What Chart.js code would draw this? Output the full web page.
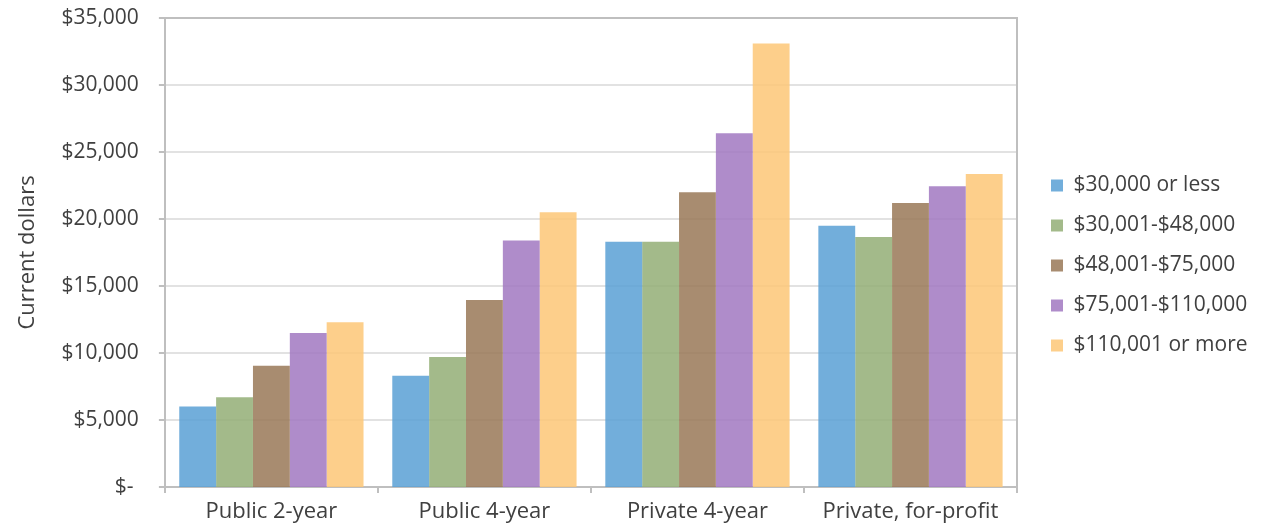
<!DOCTYPE html>
<html>
<head>
<meta charset="utf-8">
<script src="https://cdn.jsdelivr.net/npm/chart.js@4"></script>
<style>
  html, body { margin: 0; padding: 0; background: #ffffff; }
  #wrap { width: 1265px; height: 523px; }
</style>
</head>
<body>
<div id="wrap"><canvas id="chart" width="1265" height="523"></canvas></div>
<script>
// Institution types
const categories = ["Public 2-year", "Public 4-year", "Private 4-year", "Private, for-profit"];

// Family income groups
const incomeGroups = ["$30,000 or less", "$30,001-$48,000", "$48,001-$75,000", "$75,001-$110,000", "$110,001 or more"];

// Net price by income group, per institution type (current dollars)
const income30kOrLess   = [6000, 8300, 18300, 19500];
const income30kTo48k    = [6700, 9700, 18300, 18650];
const income48kTo75k    = [9050, 13950, 22000, 21200];
const income75kTo110k   = [11500, 18400, 26400, 22450];
const income110kOrMore  = [12300, 20500, 33100, 23350];

// Value-axis ticks
const yTicks = [0, 5000, 10000, 15000, 20000, 25000, 30000, 35000];

const seriesValues = [income30kOrLess, income30kTo48k, income48kTo75k, income75kTo110k, income110kOrMore];
const seriesColors = [
  "rgba(89,160,213,0.85)",
  "rgba(147,174,117,0.85)",
  "rgba(153,120,87,0.85)",
  "rgba(161,120,193,0.85)",
  "rgba(253,199,119,0.85)"
];

const textColor = "#404040";
const axisColor = "#bfbfbf";
const gridColor = "#e2e2e2";
const fontFamily = "'Open Sans', 'DejaVu Sans', sans-serif";
const legendWidth = 233;

// Frame around the plotting area (top and right edges)
const plotFrame = {
  id: "plotFrame",
  beforeDatasetsDraw(chart) {
    const { ctx, chartArea: a } = chart;
    ctx.save();
    ctx.strokeStyle = axisColor;
    ctx.lineWidth = 2;
    ctx.beginPath();
    ctx.moveTo(a.left, a.top);
    ctx.lineTo(a.right, a.top);
    ctx.lineTo(a.right, a.bottom);
    ctx.stroke();
    ctx.restore();
  }
};

// Give the legend a fixed-width column on the right
const legendColumn = {
  id: "legendColumn",
  beforeLayout(chart) {
    const lg = chart.legend;
    if (lg && !lg.__fixedWidth) {
      const origFit = lg.fit.bind(lg);
      lg.fit = function () {
        origFit();
        this.width = legendWidth;
      };
      lg.__fixedWidth = true;
    }
  }
};

new Chart(document.getElementById("chart"), {
  type: "bar",
  data: {
    labels: categories,
    datasets: incomeGroups.map((name, i) => ({
      label: name,
      data: seriesValues[i],
      backgroundColor: seriesColors[i],
      borderWidth: 0,
      categoryPercentage: 0.865,
      barPercentage: 1.0
    }))
  },
  options: {
    responsive: false,
    animation: false,
    layout: { padding: { top: 8, right: 0, left: 0, bottom: 0 } },
    plugins: {
      tooltip: { enabled: false },
      legend: {
        position: "right",
        labels: {
          boxWidth: 12,
          boxHeight: 12,
          padding: 19,
          color: textColor,
          font: { family: fontFamily, size: 21 }
        }
      }
    },
    scales: {
      x: {
        grid: {
          display: true,
          drawOnChartArea: false,
          drawTicks: true,
          tickLength: 6,
          tickColor: axisColor,
          lineWidth: 2
        },
        border: { display: true, color: axisColor, width: 2 },
        ticks: {
          color: textColor,
          font: { family: fontFamily, size: 22 },
          padding: 6
        },
        afterFit(scale) { scale.height = 36; }
      },
      // spacer between the plot frame and the legend
      gap: {
        position: "right",
        axis: "y",
        display: true,
        grid: { display: false },
        border: { display: false },
        ticks: { display: false },
        afterFit(scale) { scale.width = 15; }
      },
      y: {
        min: 0,
        max: 35000,
        afterBuildTicks(scale) {
          scale.ticks = yTicks.map(v => ({ value: v }));
        },
        afterFit(scale) {
          scale.paddingTop = 18;
          scale.paddingBottom = 0;
        },
        grid: {
          color: gridColor,
          lineWidth: 2,
          tickLength: 6,
          tickColor: axisColor
        },
        border: { display: true, color: axisColor, width: 2 },
        title: {
          display: true,
          text: "Current dollars",
          color: textColor,
          font: { family: fontFamily, size: 22 },
          padding: { top: 15, bottom: 0 }
        },
        ticks: {
          color: textColor,
          font: { family: fontFamily, size: 21 },
          padding: 20,
          callback: v => v === 0 ? "$- " : "$" + v.toLocaleString("en-US")
        }
      }
    }
  },
  plugins: [plotFrame, legendColumn]
});
</script>
</body>
</html>
